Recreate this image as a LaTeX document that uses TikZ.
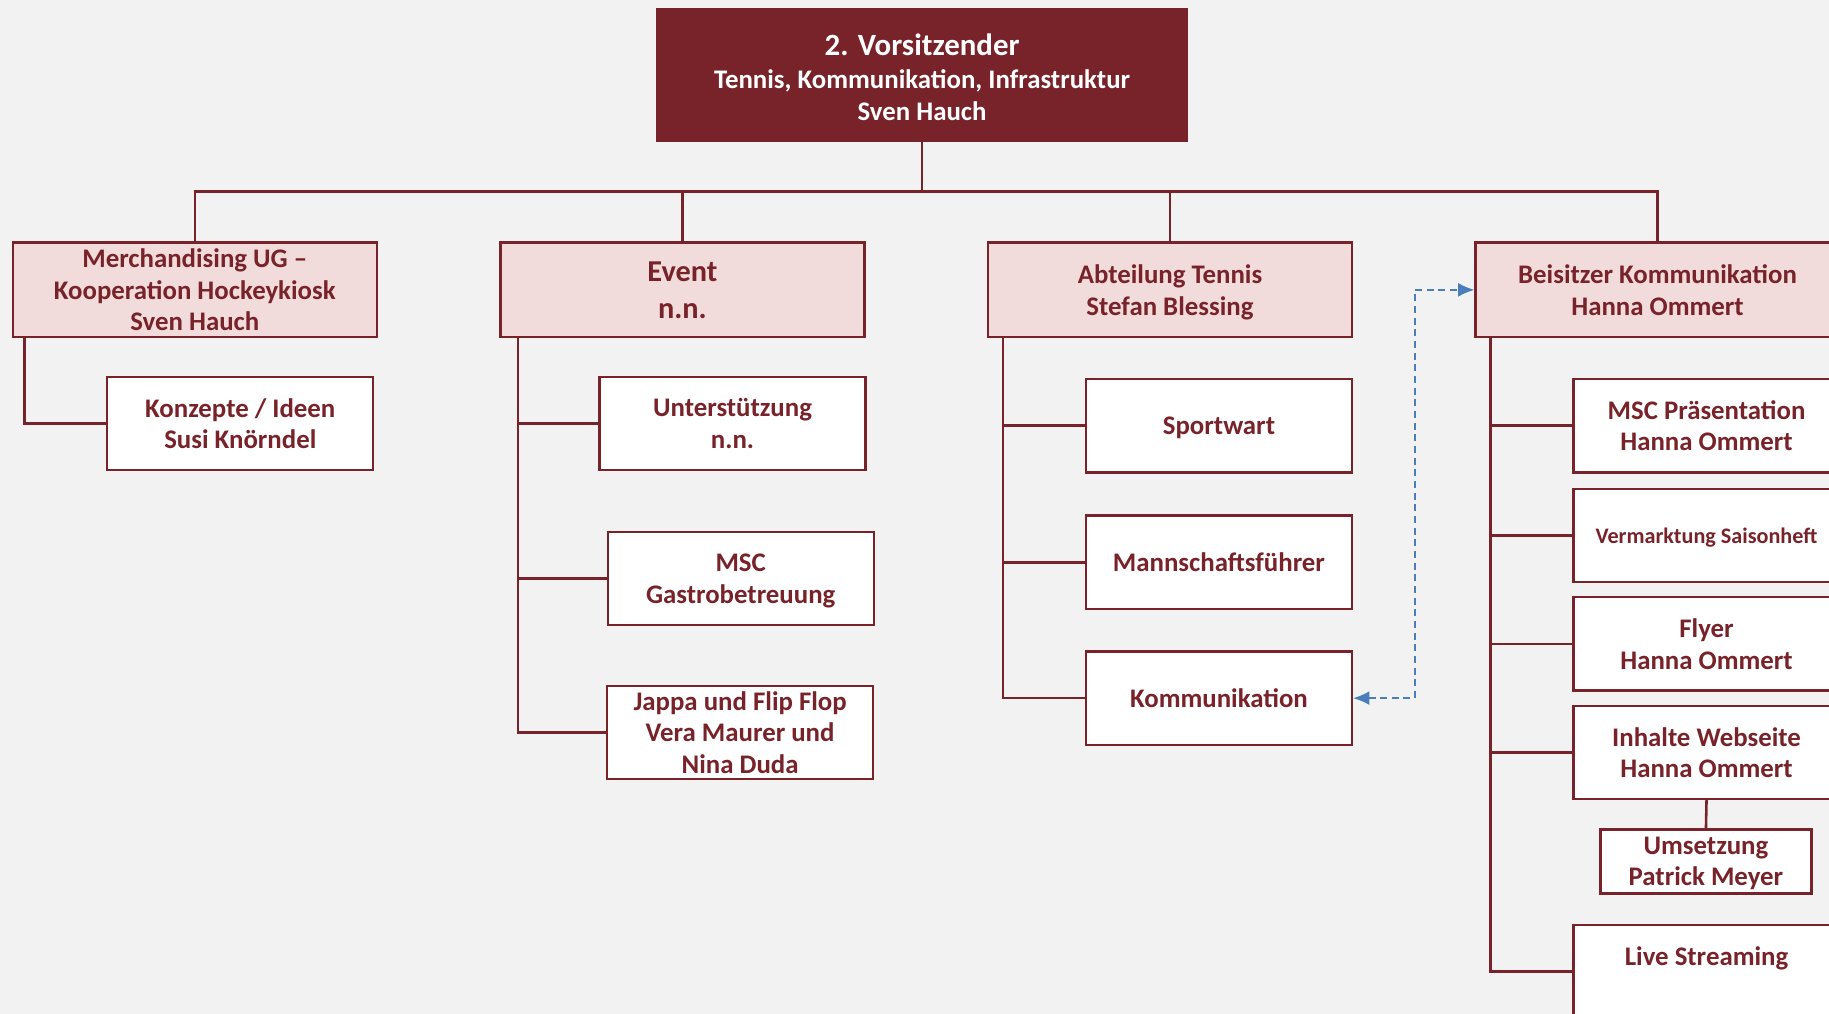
\documentclass[tikz,border=0pt]{standalone}
\usepackage{fontspec}
\setmainfont{Carlito}
\usetikzlibrary{arrows.meta}
\definecolor{dred}{HTML}{78232A}
\definecolor{pinkf}{HTML}{F2DCDB}
\definecolor{bgc}{HTML}{F2F2F2}
\definecolor{lblue}{HTML}{4A7EBB}
\begin{document}
\begin{tikzpicture}[x=1pt,y=-1pt,
  every node/.style={text=dred, align=center, inner sep=0pt, text depth=-2pt, font=\fontsize{23}{27}\selectfont\bfseries},
  topbox/.style={fill=dred, draw=dred, text=white, minimum width=455pt, minimum height=114pt},
  midbox/.style={fill=pinkf, draw=dred, line width=2pt, minimum width=312pt, minimum height=81pt},
  subbox/.style={fill=white, draw=dred, line width=2pt, minimum width=228pt, minimum height=80pt},
  conn/.style={draw=dred, line width=2.2pt},
  link/.style={draw=lblue, line width=1.6pt, dash pattern=on 6pt off 4pt, {Latex[length=14pt,width=12pt]}-{Latex[length=14pt,width=12pt]}}
]
\fill[bgc] (0,0) rectangle (1568,869);
\clip (0,0) rectangle (1568,869);

\node[topbox] (top) at (790.5,64) {};
\node (toptext) at (790.5,66) [text=white, text depth=0pt] {{\fontsize{26.5}{29}\selectfont 2. Vorsitzender}\\[2pt]Tennis, Kommunikation, Infrastruktur\\Sven Hauch};

\node[midbox] (merch) at (167,248.5) {Merchandising UG --\\Kooperation Hockeykiosk\\Sven Hauch};
\node[midbox, font=\fontsize{26}{32}\selectfont\bfseries] (event) at (585,248.5) {Event\\n.n.};
\node[midbox] (tennis) at (1003,248.5) {Abteilung Tennis\\Stefan Blessing};
\node[midbox] (beis) at (1421,248.5) {Beisitzer Kommunikation\\Hanna Ommert};

\node[subbox] (konz) at (206,363) {Konzepte / Ideen\\Susi Knörndel};

\node[subbox] (unter) at (628,363) {Unterstützung\\n.n.};
\node[subbox] (gastro) at (635,496) {MSC\\Gastrobetreuung};
\node[subbox] (jappa) at (634.5,628) {Jappa und Flip Flop\\Vera Maurer und\\Nina Duda};

\node[subbox] (sport) at (1045,365) {Sportwart};
\node[subbox] (mann) at (1045,482) {Mannschaftsführer};
\node[subbox] (komm) at (1045,598.5) {Kommunikation};

\node[subbox] (praes) at (1463,365) {MSC Präsentation\\Hanna Ommert};
\node[subbox, font=\fontsize{19}{23}\selectfont\bfseries] (verm) at (1463,459) {Vermarktung Saisonheft};
\node[subbox] (flyer) at (1463,552) {Flyer\\Hanna Ommert};
\node[subbox] (inhalte) at (1463,645) {Inhalte Webseite\\Hanna Ommert};
\node[subbox, minimum width=181pt, minimum height=55pt] (umsetz) at (1462.5,738.5) {Umsetzung\\Patrick Meyer};
\node[subbox] (live) at (1463,833) {Live Streaming\\\strut};

% top-level connectors
\draw[conn] (top.south) -- ++(0,43) coordinate (bus);
\draw[conn] (merch.north) |- (bus) -| (beis.north);
\draw[conn] (event.north) -- (event.north |- bus);
\draw[conn] (tennis.north) -- (tennis.north |- bus);

% merchandising
\draw[conn] ([xshift=11pt]merch.south west) |- (konz.west);

% event
\coordinate (ev) at ([xshift=16pt]event.south west);
\draw[conn] (ev) |- (jappa.west);
\draw[conn] (unter.west) -| (ev);
\draw[conn] (gastro.west) -| (ev);

% tennis
\coordinate (tv) at ([xshift=14pt]tennis.south west);
\draw[conn] (tv) |- (komm.west);
\draw[conn] (sport.west) -| (tv);
\draw[conn] (mann.west) -| (tv);

% beisitzer
\coordinate (bv) at ([xshift=14pt]beis.south west);
\draw[conn] (bv) |- (live.west);
\draw[conn] (praes.west) -| (bv);
\draw[conn] (verm.west) -| (bv);
\draw[conn] (flyer.west) -| (bv);
\draw[conn] (inhalte.west) -| (bv);
\draw[conn] (inhalte.south) -- (umsetz.north);

% dashed link
\draw[link] (komm.east) -- ++(53,0) |- (beis.west);
\end{tikzpicture}
\end{document}
